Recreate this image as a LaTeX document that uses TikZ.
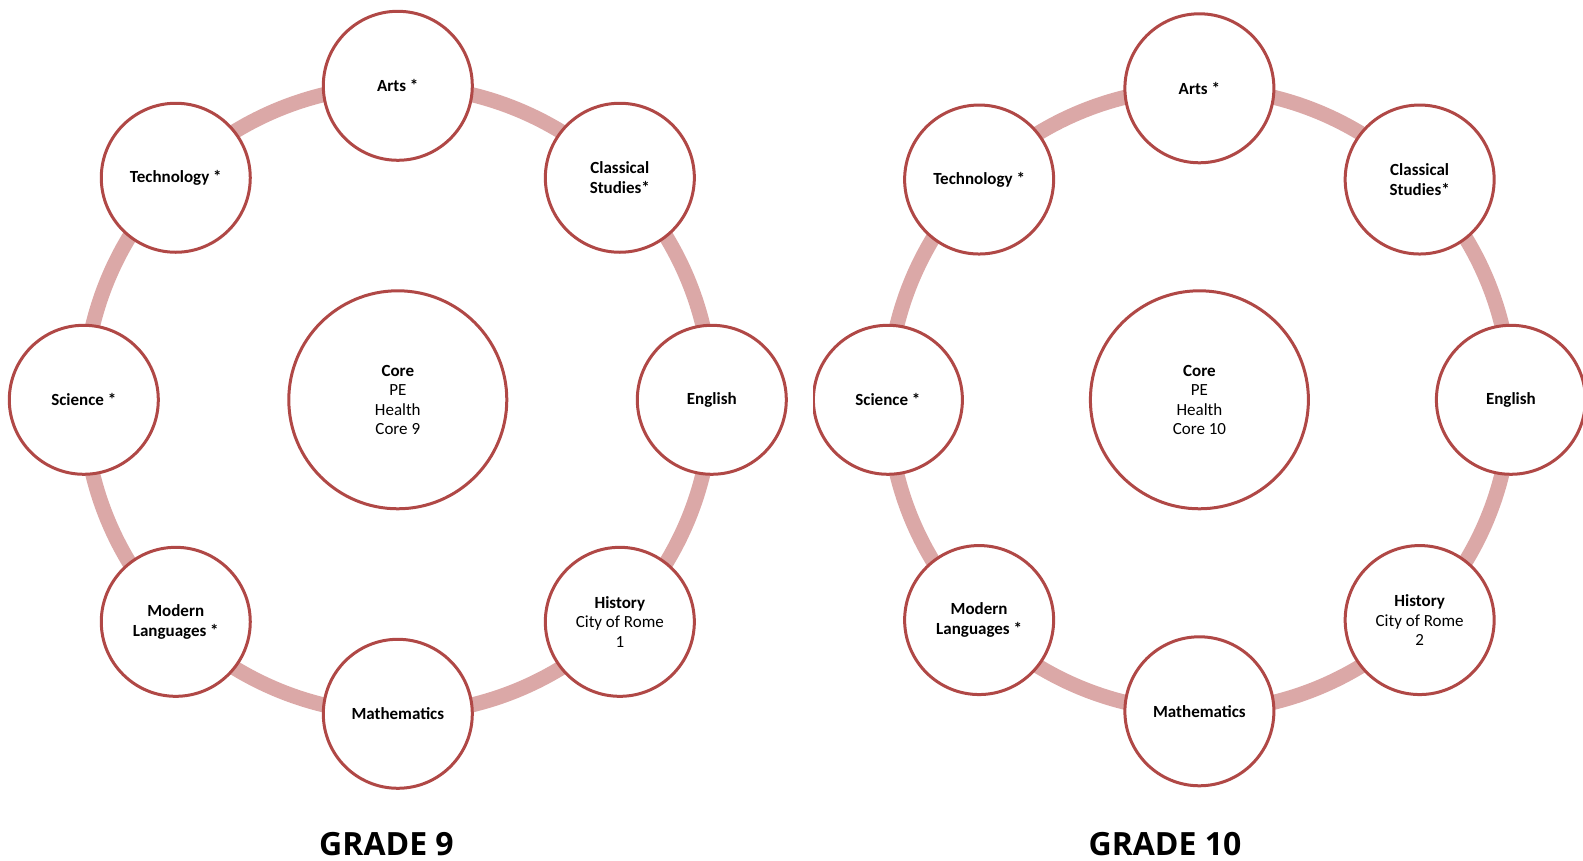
\documentclass[tikz,border=0pt]{standalone}
\usepackage{fontspec}
\setmainfont{Carlito}
\newfontfamily\gradefont{Open Sans}
\usetikzlibrary{backgrounds,calc}
\definecolor{rimc}{RGB}{176,72,70}
\definecolor{ringc}{RGB}{219,168,167}
\tikzset{
  subj/.style={circle, draw=rimc, line width=3pt, fill=white, minimum size=149pt, inner sep=0pt, align=center, font=\fontsize{17}{19.5}\selectfont},
  corec/.style={subj, minimum size=218pt},
  ringarc/.style={draw=ringc, line width=15pt},
  gradelbl/.style={font=\gradefont\bfseries\fontsize{32}{36}\selectfont, anchor=base, inner sep=0pt}
}
\begin{document}
\begin{tikzpicture}[x=1pt,y=1pt]
\useasboundingbox (0,0) rectangle (1583,861);
% ---------------- GRADE 9 ----------------
\coordinate (L) at (397.8,461.2);
\node[corec] (Lcore) at (L) {\textbf{Core}\\PE\\Health\\Core 9};
\node[subj] (Larts) at ($(L)+(90:314)$) {\textbf{Arts *}};
\node[subj] (Lclass) at ($(L)+(45:314)$) {\textbf{Classical}\\\textbf{Studies*}};
\node[subj] (Leng) at ($(L)+(0:314)$) {\textbf{English}};
\node[subj] (Lhist) at ($(L)+(-45:314)$) {\textbf{History}\\City of Rome\\1};
\node[subj] (Lmath) at ($(L)+(-90:314)$) {\textbf{Mathematics}};
\node[subj] (Lmod) at ($(L)+(-135:314)$) {\textbf{Modern}\\\textbf{Languages *}};
\node[subj] (Lsci) at ($(L)+(180:314)$) {\textbf{Science *}};
\node[subj] (Ltech) at ($(L)+(135:314)$) {\textbf{Technology *}};
\begin{scope}[on background layer]
\draw[ringarc] (Larts.center) arc[start angle=90, end angle=45, radius=314];
\draw[ringarc] (Lclass.center) arc[start angle=45, end angle=0, radius=314];
\draw[ringarc] (Leng.center) arc[start angle=0, end angle=-45, radius=314];
\draw[ringarc] (Lhist.center) arc[start angle=-45, end angle=-90, radius=314];
\draw[ringarc] (Lmath.center) arc[start angle=-90, end angle=-135, radius=314];
\draw[ringarc] (Lmod.center) arc[start angle=-135, end angle=-180, radius=314];
\draw[ringarc] (Lsci.center) arc[start angle=180, end angle=135, radius=314];
\draw[ringarc] (Ltech.center) arc[start angle=135, end angle=90, radius=314];
\end{scope}
\node[gradelbl] (Lgrade) at (386.5,5) {GRADE 9};
% ---------------- GRADE 10 ----------------
\begin{scope}
\clip (813,0) rectangle (1583,861);
\coordinate (R) at (1199.4,461.2);
\node[corec] (Rcore) at (R) {\textbf{Core}\\PE\\Health\\Core 10};
\node[subj] (Rarts) at ($(R)+(90:311.5)$) {\textbf{Arts *}};
\node[subj] (Rclass) at ($(R)+(45:311.5)$) {\textbf{Classical}\\\textbf{Studies*}};
\node[subj] (Reng) at ($(R)+(0:311.5)$) {\textbf{English}};
\node[subj] (Rhist) at ($(R)+(-45:311.5)$) {\textbf{History}\\City of Rome\\2};
\node[subj] (Rmath) at ($(R)+(-90:311.5)$) {\textbf{Mathematics}};
\node[subj] (Rmod) at ($(R)+(-135:311.5)$) {\textbf{Modern}\\\textbf{Languages *}};
\node[subj] (Rsci) at ($(R)+(180:311.5)$) {\textbf{Science *}};
\node[subj] (Rtech) at ($(R)+(135:311.5)$) {\textbf{Technology *}};
\begin{scope}[on background layer]
\draw[ringarc] (Rarts.center) arc[start angle=90, end angle=45, radius=311.5];
\draw[ringarc] (Rclass.center) arc[start angle=45, end angle=0, radius=311.5];
\draw[ringarc] (Reng.center) arc[start angle=0, end angle=-45, radius=311.5];
\draw[ringarc] (Rhist.center) arc[start angle=-45, end angle=-90, radius=311.5];
\draw[ringarc] (Rmath.center) arc[start angle=-90, end angle=-135, radius=311.5];
\draw[ringarc] (Rmod.center) arc[start angle=-135, end angle=-180, radius=311.5];
\draw[ringarc] (Rsci.center) arc[start angle=180, end angle=135, radius=311.5];
\draw[ringarc] (Rtech.center) arc[start angle=135, end angle=90, radius=311.5];
\end{scope}
\end{scope}
\node[gradelbl] (Rgrade) at (1165,5) {GRADE 10};
\end{tikzpicture}
\end{document}
